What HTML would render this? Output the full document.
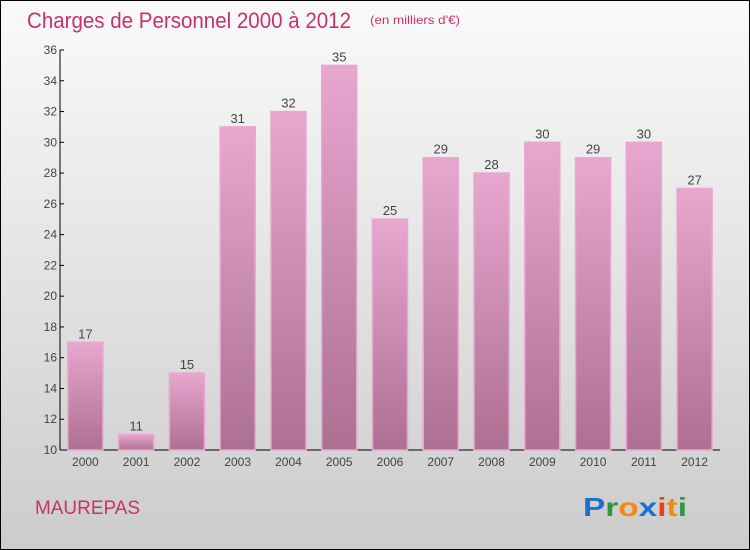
<!DOCTYPE html>
<html><head><meta charset="utf-8"><style>
html,body{margin:0;padding:0;}
body{width:750px;height:550px;overflow:hidden;font-family:"Liberation Sans",sans-serif;}
#wrap{position:absolute;left:0;top:0;width:748px;height:548px;border:1px solid #000;background:linear-gradient(#fafafa,#cccccc);}
</style></head><body>
<div id="wrap">
<svg width="750" height="550" style="position:absolute;left:-1px;top:-1px" font-family="Liberation Sans,sans-serif">
<defs>
<linearGradient id="bg" x1="0" y1="0" x2="0" y2="1"><stop offset="0" stop-color="#e7a7cf"/><stop offset="1" stop-color="#ad6f92"/></linearGradient>
</defs>
<text x="27" y="28" font-size="22" fill="#c8326a" textLength="324" lengthAdjust="spacingAndGlyphs">Charges de Personnel 2000 à 2012</text>
<text x="370" y="24" font-size="12" fill="#c8326a" textLength="90" lengthAdjust="spacingAndGlyphs">(en milliers d'€)</text>
<g id="axes"></g><g id="bars"></g>
<text x="35" y="514" font-size="19" fill="#c8326a" textLength="105" lengthAdjust="spacingAndGlyphs">MAUREPAS</text>
<text x="583" y="516" font-size="26" font-weight="bold" textLength="104" lengthAdjust="spacingAndGlyphs"><tspan fill="#1a6fcf">P</tspan><tspan fill="#2a9a3a">r</tspan><tspan fill="#f08a10">o</tspan><tspan fill="#1a6fcf">x</tspan><tspan fill="#e8401a">i</tspan><tspan fill="#f08a10">t</tspan><tspan fill="#2a9a3a">i</tspan></text>
</svg>
</div>
<script>
const categories=["2000","2001","2002","2003","2004","2005","2006","2007","2008","2009","2010","2011","2012"];
const values=[17,11,15,31,32,35,25,29,28,30,29,30,27];
const yTicks=[10,12,14,16,18,20,22,24,26,28,30,32,34,36];
const NS="http://www.w3.org/2000/svg";
const x0=60,x1=720,yTop=50,yBot=450,ymin=10,ymax=36;
const band=(x1-x0)/categories.length;
function y(v){return yBot-(v-ymin)/(ymax-ymin)*(yBot-yTop);}
function xc(i){return x0+band*(i+0.5);}
const axes=document.getElementById('axes'),bars=document.getElementById('bars');
function mk(tag,attrs,parent,text){const e=document.createElementNS(NS,tag);for(const k in attrs)e.setAttribute(k,attrs[k]);if(text!==undefined)e.textContent=text;parent.appendChild(e);return e;}
let l=mk('line',{x1:x0,y1:yTop,x2:x0,y2:yBot,stroke:'#000'},axes);


l=mk('line',{x1:x0,y1:yBot,x2:x1,y2:yBot,stroke:'#000'},axes);


yTicks.forEach(t=>{
 const tk=mk('line',{x1:x0,y1:y(t),x2:x0+4,y2:y(t),stroke:'#000'},axes);
 
 
 const tx=mk('text',{x:x0-3,y:y(t)+4,'font-size':12,fill:'#444','text-anchor':'end'},axes,t);
 
 
});
categories.forEach((c,i)=>{
 const v=values[i],w=35;
 const r=mk('rect',{x:xc(i)-w/2,y:y(v),width:w,height:yBot-y(v),fill:'url(#bg)',stroke:'#eaa6d0','stroke-width':1.5},bars);
 
 
 const vt=mk('text',{x:xc(i),y:y(v)-4,'font-size':13,fill:'#444','text-anchor':'middle'},bars,v);
 
 
 const ct=mk('text',{x:xc(i),y:466,'font-size':12,fill:'#444','text-anchor':'middle'},bars,c);
 
 
});
</script>
</body></html>
